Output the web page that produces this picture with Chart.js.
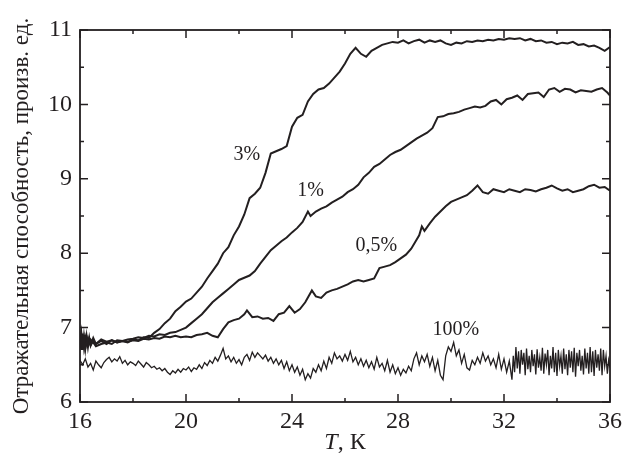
<!DOCTYPE html>
<html>
<head>
<meta charset="utf-8">
<script src="https://cdn.jsdelivr.net/npm/chart.js@4"></script>
<style>
  html, body { margin: 0; padding: 0; background: #fff; }
  #wrap { width: 627px; height: 460px; position: relative; }
</style>
</head>
<body>
<div id="wrap"><canvas id="chart"></canvas></div>
<script>
// Axis ticks
const xTicks = [16, 20, 24, 28, 32, 36]
const xMinor = [18, 22, 26, 30, 34]
const yTicks = [6, 7, 8, 9, 10, 11]
const yMinor = [6.5, 7.5, 8.5, 9.5, 10.5]

// 3 %
const t3 = [16.0, 16.05, 16.1, 16.15, 16.2, 16.25, 16.3, 16.35, 16.4, 16.5, 16.6, 16.8,
  17.0, 17.2, 17.4, 17.6, 17.8, 18.0, 18.2, 18.4, 18.6, 18.8, 19.0, 19.2, 19.4, 19.6, 19.8,
  20.0, 20.2, 20.4, 20.6, 20.8, 21.0, 21.2, 21.4, 21.6, 21.8, 22.0, 22.2, 22.4, 22.6, 22.8,
  23.0, 23.2, 23.4, 23.6, 23.8, 24.0, 24.2, 24.4, 24.6, 24.8, 25.0, 25.2, 25.4, 25.6, 25.8,
  26.0, 26.2, 26.4, 26.6, 26.8, 27.0, 27.2, 27.4, 27.6, 27.8, 28.0, 28.2, 28.4, 28.6, 28.8,
  29.0, 29.2, 29.4, 29.6, 29.8, 30.0, 30.2, 30.4, 30.6, 30.8, 31.0, 31.2, 31.4, 31.6, 31.8,
  32.0, 32.2, 32.4, 32.6, 32.8, 33.0, 33.2, 33.4, 33.6, 33.8, 34.0, 34.2, 34.4, 34.6, 34.8,
  35.0, 35.2, 35.4, 35.6, 35.8, 36.0]
const r3 = [6.78, 6.92, 6.70, 6.90, 6.72, 6.88, 6.74, 6.86, 6.76, 6.86, 6.78, 6.82,
  6.78, 6.83, 6.80, 6.82, 6.80, 6.84, 6.83, 6.87, 6.86, 6.93, 6.98, 7.06, 7.12, 7.22, 7.28,
  7.35, 7.39, 7.47, 7.55, 7.66, 7.76, 7.86, 8.00, 8.08, 8.24, 8.36, 8.52, 8.74, 8.80, 8.88,
  9.08, 9.34, 9.37, 9.40, 9.44, 9.70, 9.82, 9.86, 10.04, 10.14, 10.20, 10.22, 10.28, 10.36, 10.44,
  10.55, 10.68, 10.76, 10.68, 10.64, 10.72, 10.76, 10.80, 10.82, 10.84, 10.83, 10.86, 10.82, 10.85, 10.87,
  10.83, 10.86, 10.84, 10.86, 10.82, 10.80, 10.83, 10.82, 10.85, 10.84, 10.86, 10.85, 10.87, 10.86, 10.88,
  10.87, 10.89, 10.88, 10.89, 10.86, 10.88, 10.85, 10.86, 10.83, 10.84, 10.81, 10.83, 10.82, 10.84, 10.80,
  10.81, 10.78, 10.79, 10.76, 10.72, 10.77]

// 1 %
const t1 = [16.0, 16.05, 16.1, 16.15, 16.2, 16.3, 16.4, 16.5, 16.6, 16.8,
  17.0, 17.2, 17.4, 17.6, 17.8, 18.0, 18.2, 18.4, 18.6, 18.8, 19.0, 19.2, 19.4, 19.6, 19.8,
  20.0, 20.2, 20.4, 20.6, 20.8, 21.0, 21.2, 21.4, 21.6, 21.8, 22.0, 22.2, 22.4, 22.6, 22.8,
  23.0, 23.2, 23.4, 23.6, 23.8, 24.0, 24.2, 24.4, 24.6, 24.7, 24.9, 25.1, 25.3, 25.5, 25.7, 25.9,
  26.1, 26.3, 26.5, 26.7, 26.9, 27.1, 27.3, 27.5, 27.7, 27.9, 28.1, 28.3, 28.5, 28.7, 28.9,
  29.1, 29.3, 29.5, 29.7, 29.9, 30.1, 30.3, 30.5, 30.7, 30.9, 31.1, 31.3, 31.5, 31.7, 31.9,
  32.1, 32.3, 32.5, 32.7, 32.9, 33.1, 33.3, 33.5, 33.7, 33.9, 34.1, 34.3, 34.5, 34.7, 34.9,
  35.1, 35.3, 35.5, 35.7, 35.9, 36.0]
const r1 = [6.85, 6.70, 6.92, 6.74, 6.88, 6.76, 6.84, 6.80, 6.75, 6.78,
  6.80, 6.78, 6.83, 6.82, 6.84, 6.85, 6.87, 6.86, 6.89, 6.88, 6.91, 6.90, 6.93, 6.94, 6.97,
  7.00, 7.06, 7.12, 7.18, 7.26, 7.34, 7.40, 7.46, 7.52, 7.58, 7.64, 7.67, 7.70, 7.76, 7.86,
  7.95, 8.04, 8.10, 8.16, 8.21, 8.28, 8.34, 8.42, 8.56, 8.50, 8.56, 8.60, 8.63, 8.68, 8.72, 8.76,
  8.82, 8.86, 8.92, 9.02, 9.08, 9.16, 9.20, 9.26, 9.32, 9.36, 9.39, 9.44, 9.49, 9.54, 9.58,
  9.62, 9.68, 9.83, 9.84, 9.87, 9.88, 9.90, 9.93, 9.95, 9.97, 9.96, 9.98, 10.04, 10.06, 10.00,
  10.07, 10.09, 10.12, 10.06, 10.14, 10.15, 10.16, 10.10, 10.20, 10.22, 10.17, 10.21, 10.20, 10.16, 10.19,
  10.18, 10.17, 10.20, 10.22, 10.16, 10.12]

// 0,5 %
const t05 = [16.0, 16.05, 16.1, 16.15, 16.2, 16.3, 16.4, 16.5, 16.6, 16.8,
  17.0, 17.2, 17.4, 17.6, 17.8, 18.0, 18.2, 18.4, 18.6, 18.8, 19.0, 19.2, 19.4, 19.6, 19.8,
  20.0, 20.2, 20.4, 20.6, 20.8, 21.0, 21.2, 21.4, 21.6, 21.8, 22.0, 22.2, 22.3, 22.5, 22.7, 22.9,
  23.1, 23.3, 23.5, 23.7, 23.9, 24.1, 24.3, 24.5, 24.75, 24.9, 25.1, 25.3, 25.5, 25.7, 25.9,
  26.1, 26.3, 26.5, 26.7, 26.9, 27.1, 27.3, 27.5, 27.7, 27.9, 28.1, 28.3, 28.5, 28.7, 28.8, 28.9,
  29.0, 29.2, 29.4, 29.6, 29.8, 30.0, 30.2, 30.4, 30.6, 30.8, 31.0, 31.2, 31.4, 31.6, 31.8,
  32.0, 32.2, 32.4, 32.6, 32.8, 33.0, 33.2, 33.4, 33.6, 33.8, 34.0, 34.2, 34.4, 34.6, 34.8,
  35.0, 35.2, 35.4, 35.6, 35.8, 36.0]
const r05 = [6.76, 6.90, 6.70, 6.88, 6.72, 6.86, 6.76, 6.82, 6.78, 6.84,
  6.81, 6.83, 6.80, 6.82, 6.81, 6.83, 6.82, 6.85, 6.84, 6.86, 6.85, 6.88, 6.87, 6.89, 6.87,
  6.88, 6.87, 6.90, 6.91, 6.93, 6.89, 6.87, 6.98, 7.07, 7.10, 7.12, 7.18, 7.23, 7.14, 7.15, 7.12,
  7.13, 7.09, 7.18, 7.20, 7.29, 7.20, 7.25, 7.34, 7.50, 7.42, 7.40, 7.47, 7.50, 7.52, 7.55,
  7.58, 7.62, 7.64, 7.62, 7.64, 7.66, 7.80, 7.82, 7.84, 7.88, 7.93, 7.98, 8.06, 8.18, 8.24, 8.36,
  8.30, 8.40, 8.49, 8.56, 8.63, 8.69, 8.72, 8.75, 8.78, 8.84, 8.91, 8.82, 8.80, 8.86, 8.84,
  8.82, 8.86, 8.84, 8.82, 8.86, 8.85, 8.83, 8.86, 8.88, 8.91, 8.87, 8.84, 8.86, 8.82, 8.84,
  8.86, 8.90, 8.92, 8.88, 8.89, 8.84]

// 100 %
const t100 = [
  16.0, 16.1, 16.2, 16.3, 16.4, 16.5, 16.6, 16.7, 16.8, 16.9,
  17.0, 17.1, 17.2, 17.3, 17.4, 17.5, 17.6, 17.7, 17.8, 17.9,
  18.0, 18.1, 18.2, 18.3, 18.4, 18.5, 18.6, 18.7, 18.8, 18.9,
  19.0, 19.1, 19.2, 19.3, 19.4, 19.5, 19.6, 19.7, 19.8, 19.9,
  20.0, 20.1, 20.2, 20.3, 20.4, 20.5, 20.6, 20.7, 20.8, 20.9,
  21.0, 21.1, 21.2, 21.3, 21.4, 21.5, 21.6, 21.7, 21.8, 21.9,
  22.0, 22.1, 22.2, 22.3, 22.4, 22.5, 22.6, 22.7, 22.8, 22.9,
  23.0, 23.1, 23.2, 23.3, 23.4, 23.5, 23.6, 23.7, 23.8, 23.9,
  24.0, 24.1, 24.2, 24.3, 24.4, 24.5, 24.6, 24.7, 24.8, 24.9,
  25.0, 25.1, 25.2, 25.3, 25.4, 25.5, 25.6, 25.7, 25.8, 25.9,
  26.0, 26.1, 26.2, 26.3, 26.4, 26.5, 26.6, 26.7, 26.8, 26.9,
  27.0, 27.1, 27.2, 27.3, 27.4, 27.5, 27.6, 27.7, 27.8, 27.9,
  28.0, 28.1, 28.2, 28.3, 28.4, 28.5, 28.6, 28.7, 28.8, 28.9,
  29.0, 29.1, 29.2, 29.3, 29.4, 29.5, 29.6, 29.7, 29.8, 29.9,
  30.0, 30.1, 30.2, 30.3, 30.4, 30.5, 30.6, 30.7, 30.8, 30.9,
  31.0, 31.1, 31.2, 31.3, 31.4, 31.5, 31.6, 31.7, 31.8, 31.9,
  32.0, 32.1, 32.2, 32.3,
  32.35, 32.4, 32.45, 32.5, 32.55, 32.6, 32.65, 32.7, 32.75, 32.8,
  32.85, 32.9, 32.95, 33.0, 33.05, 33.1, 33.15, 33.2, 33.25, 33.3,
  33.35, 33.4, 33.45, 33.5, 33.55, 33.6, 33.65, 33.7, 33.75, 33.8,
  33.85, 33.9, 33.95, 34.0, 34.05, 34.1, 34.15, 34.2, 34.25, 34.3,
  34.35, 34.4, 34.45, 34.5, 34.55, 34.6, 34.65, 34.7, 34.75, 34.8,
  34.85, 34.9, 34.95, 35.0, 35.05, 35.1, 35.15, 35.2, 35.25, 35.3,
  35.35, 35.4, 35.45, 35.5, 35.55, 35.6, 35.65, 35.7, 35.75, 35.8,
  35.85, 35.9, 35.95, 36.0]
const r100 = [
  6.56, 6.50, 6.58, 6.47, 6.52, 6.43, 6.55, 6.50, 6.46, 6.53,
  6.57, 6.60, 6.54, 6.58, 6.55, 6.61, 6.52, 6.56, 6.50, 6.54,
  6.52, 6.49, 6.55, 6.51, 6.47, 6.53, 6.50, 6.46, 6.48, 6.44,
  6.46, 6.42, 6.45, 6.40, 6.37, 6.42, 6.39, 6.44, 6.40, 6.45,
  6.43, 6.47, 6.41, 6.46, 6.44, 6.50, 6.45, 6.53, 6.49, 6.56,
  6.52, 6.60, 6.55, 6.63, 6.72, 6.58, 6.62, 6.54, 6.60, 6.52,
  6.57, 6.50, 6.60, 6.64, 6.56, 6.67, 6.60, 6.66, 6.62, 6.58,
  6.63, 6.55, 6.60, 6.52, 6.58, 6.50, 6.56, 6.45, 6.54, 6.42,
  6.50, 6.40, 6.47, 6.36, 6.44, 6.30, 6.38, 6.32, 6.45, 6.40,
  6.50, 6.42, 6.55, 6.45, 6.60, 6.52, 6.66, 6.58, 6.62, 6.55,
  6.64, 6.56, 6.68, 6.54, 6.60, 6.50, 6.58, 6.48, 6.56, 6.46,
  6.54, 6.44, 6.60, 6.47, 6.52, 6.42, 6.56, 6.40, 6.50, 6.38,
  6.46, 6.36, 6.44, 6.39, 6.48, 6.42, 6.58, 6.66, 6.50, 6.62,
  6.54, 6.64, 6.48, 6.60, 6.42, 6.56, 6.36, 6.30, 6.62, 6.74,
  6.68, 6.80, 6.62, 6.70, 6.52, 6.64, 6.46, 6.43, 6.56, 6.50,
  6.60, 6.52, 6.66, 6.55, 6.62, 6.50, 6.58, 6.46, 6.64, 6.44,
  6.58, 6.40, 6.55, 6.30,
  6.62, 6.40, 6.74, 6.45, 6.68, 6.38, 6.70, 6.50, 6.66, 6.36,
  6.72, 6.44, 6.62, 6.40, 6.70, 6.48, 6.64, 6.37, 6.71, 6.46,
  6.60, 6.42, 6.73, 6.38, 6.65, 6.50, 6.70, 6.36, 6.62, 6.45,
  6.74, 6.40, 6.66, 6.35, 6.70, 6.48, 6.62, 6.38, 6.72, 6.44,
  6.64, 6.36, 6.70, 6.46, 6.68, 6.40, 6.73, 6.34, 6.66, 6.48,
  6.70, 6.42, 6.62, 6.37, 6.72, 6.45, 6.66, 6.38, 6.74, 6.40,
  6.68, 6.35, 6.70, 6.46, 6.64, 6.42, 6.72, 6.36, 6.70, 6.48,
  6.62, 6.38, 6.56, 6.46]

// Curve labels: text, T, R
const labelText = ['3%', '1%', '0,5%', '100%']
const labelT = [22.3, 24.7, 27.18, 30.18]
const labelR = [9.32, 8.84, 8.10, 6.97]

const ink = '#231f20'
const serif = '"Liberation Serif", "Times New Roman", serif'

function points(ts, rs) {
  return ts.map((t, i) => ({ x: t, y: rs[i] }))
}

function curve(ts, rs, width) {
  return {
    data: points(ts, rs),
    showLine: true,
    borderColor: ink,
    borderWidth: width,
    pointRadius: 0,
    tension: 0
  }
}

// Frame, inward ticks, curve labels and the x title
const decorations = {
  id: 'decorations',
  afterDraw(chart) {
    const ctx = chart.ctx
    const a = chart.chartArea
    const xs = chart.scales.x
    const ys = chart.scales.y
    ctx.save()
    ctx.strokeStyle = ink
    ctx.lineWidth = 1.8
    ctx.strokeRect(a.left, a.top, a.right - a.left, a.bottom - a.top)

    ctx.lineWidth = 1.5
    ctx.beginPath()
    const xTick = (v, len) => {
      const px = xs.getPixelForValue(v)
      ctx.moveTo(px, a.bottom); ctx.lineTo(px, a.bottom - len)
      ctx.moveTo(px, a.top); ctx.lineTo(px, a.top + len)
    }
    const yTick = (v, len) => {
      const py = ys.getPixelForValue(v)
      ctx.moveTo(a.left, py); ctx.lineTo(a.left + len, py)
      ctx.moveTo(a.right, py); ctx.lineTo(a.right - len, py)
    }
    xTicks.forEach(v => xTick(v, 8))
    xMinor.forEach(v => xTick(v, 4))
    yTicks.forEach(v => yTick(v, 8))
    yMinor.forEach(v => yTick(v, 4))
    ctx.stroke()

    ctx.fillStyle = ink
    ctx.font = '20px ' + serif
    ctx.textAlign = 'center'
    ctx.textBaseline = 'middle'
    labelText.forEach((txt, i) => {
      ctx.fillText(txt, xs.getPixelForValue(labelT[i]), ys.getPixelForValue(labelR[i]))
    })

    // x axis title: italic T, then ", K"
    const cx = (a.left + a.right) / 2
    const baseY = 449
    ctx.textBaseline = 'alphabetic'
    ctx.textAlign = 'left'
    ctx.font = 'italic 24px ' + serif
    const tW = ctx.measureText('T').width
    ctx.font = '24px ' + serif
    const restW = ctx.measureText(', К').width
    const x0 = cx - (tW + restW) / 2
    ctx.font = 'italic 24px ' + serif
    ctx.fillText('T', x0, baseY)
    ctx.font = '24px ' + serif
    ctx.fillText(', К', x0 + tW, baseY)
    ctx.restore()
  }
}

new Chart(document.getElementById('chart'), {
  type: 'scatter',
  data: {
    datasets: [
      curve(t100, r100, 1.3),
      curve(t05, r05, 2),
      curve(t1, r1, 2),
      curve(t3, r3, 2)
    ]
  },
  options: {
    responsive: true,
    maintainAspectRatio: false,
    animation: false,
    layout: { padding: { left: 0, right: 14, top: 30, bottom: 0 } },
    plugins: {
      legend: { display: false },
      tooltip: { enabled: false }
    },
    scales: {
      x: {
        type: 'linear',
        min: 16,
        max: 36,
        afterBuildTicks: (scale) => { scale.ticks = xTicks.map(v => ({ value: v })) },
        afterFit: (scale) => { scale.height = 58 },
        grid: { display: false, drawTicks: false },
        border: { display: false },
        ticks: { color: ink, padding: 5, font: { family: serif, size: 24 } }
      },
      y: {
        type: 'linear',
        min: 6,
        max: 11,
        afterBuildTicks: (scale) => { scale.ticks = yTicks.map(v => ({ value: v })) },
        afterFit: (scale) => { scale.width = 80 },
        grid: { display: false, drawTicks: false },
        border: { display: false },
        ticks: { color: ink, padding: 8, font: { family: serif, size: 24 } },
        title: {
          display: true,
          text: 'Отражательная способность, произв. ед.',
          color: ink,
          padding: { top: 8, bottom: 0 },
          font: { family: serif, size: 23 }
        }
      }
    }
  },
  plugins: [decorations]
})
</script>
</body>
</html>
